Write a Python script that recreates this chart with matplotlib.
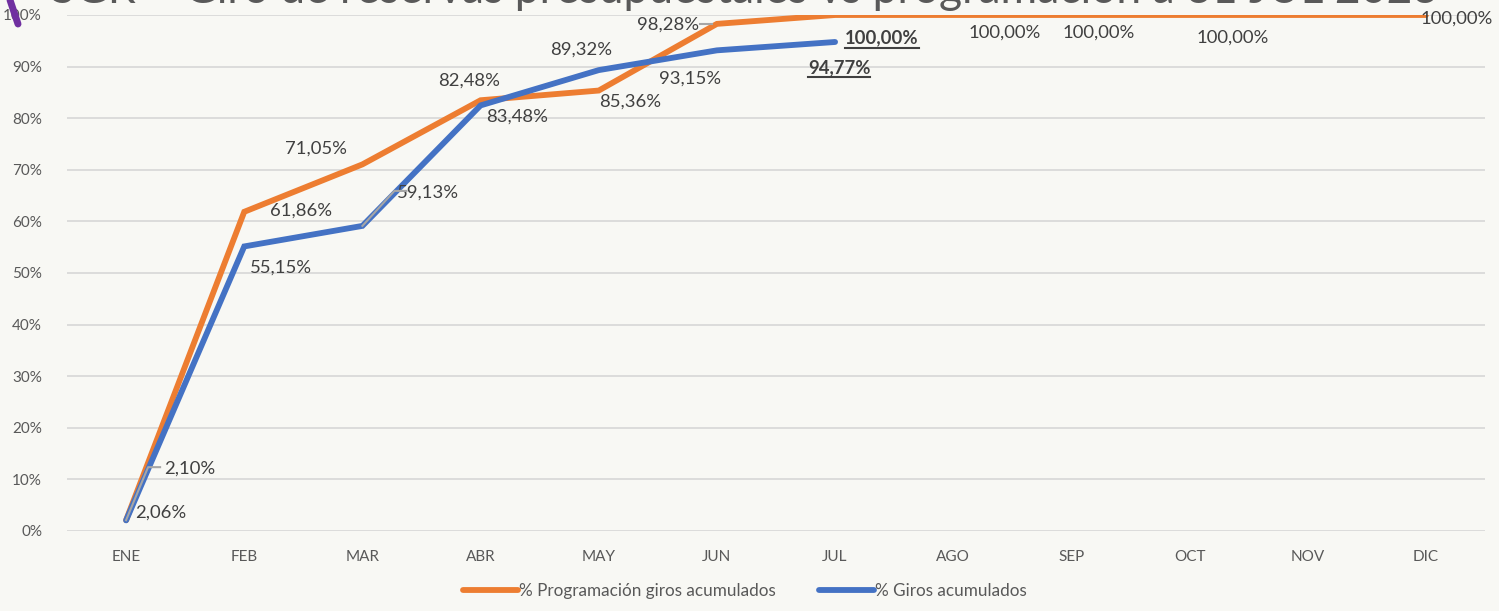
import matplotlib
matplotlib.use('Agg')
from matplotlib import pyplot as plt
from matplotlib.transforms import offset_copy
from matplotlib.lines import Line2D

plt.rcParams['font.family'] = ['Lato', 'DejaVu Sans']

# data
months = ['ENE', 'FEB', 'MAR', 'ABR', 'MAY', 'JUN', 'JUL', 'AGO', 'SEP', 'OCT', 'NOV', 'DIC']
programacion = [2.10, 61.86, 71.05, 83.48, 85.36, 98.28, 100.0, 100.0, 100.0, 100.0, 100.0, 100.0]
giros = [2.06, 55.15, 59.13, 82.48, 89.32, 93.15, 94.77]

# label offsets in pixels (dx, dy) from each point, None = no label
prog_offsets = [(64, 52), (57, 1), (-46, 16), (37, -16), (31, -11), (-49, -1),
                (47, -23), (51, -18), (27, -18), (43, -23), None, (31, -4)]
giros_offsets = [(35, 8), (37, -21), (66, 33), (-11, 25), (-18, 20), (-27, -28), (4, -26)]
bold_points = {('prog', 6), ('giros', 6)}

orange = '#ED7D31'
blue = '#4472C4'
bg = '#F8F8F4'
txt = '#404040'

fig = plt.figure(figsize=(14.99, 6.11), dpi=100, facecolor=bg)
ax = fig.add_axes([67 / 1499, 1 - 531 / 611, (1485 - 67) / 1499, (531 - 15) / 611])
ax.set_facecolor(bg)

x = list(range(len(months)))
ax.plot(x, programacion, color=orange, lw=4.2, solid_capstyle='round', solid_joinstyle='miter',
        label='% Programación giros acumulados', zorder=3)
ax.plot(x[:len(giros)], giros, color=blue, lw=4.2, solid_capstyle='round', solid_joinstyle='miter',
        label='% Giros acumulados', zorder=4)

ax.set_xlim(-0.5, len(months) - 0.5)
ax.set_ylim(0, 100)
ax.set_xticks(x)
ax.set_xticklabels(months)
ax.set_yticks(range(0, 101, 10))
ax.set_yticklabels([f'{v}%' for v in range(0, 101, 10)])
ax.tick_params(length=0, labelsize=11, colors='#595959', pad=14)
ax.tick_params(axis='y', pad=18)
ax.grid(axis='y', color='#D9D9D9', lw=1.3)
ax.set_axisbelow(True)
for s in ax.spines.values():
    s.set_visible(False)


def fmt(v):
    return f'{v:.2f}'.replace('.', ',') + '%'


labels = []
for name, vals, offs in [('prog', programacion, prog_offsets), ('giros', giros, giros_offsets)]:
    for i, v in enumerate(vals):
        if offs[i] is None:
            continue
        bold = (name, i) in bold_points
        t = ax.annotate(fmt(v), (i, v), xytext=offs[i], textcoords='offset pixels',
                        ha='center', va='center', fontsize=13.3, color=txt,
                        fontweight='bold' if bold else 'normal', zorder=6,
                        annotation_clip=False)
        if bold:
            labels.append(t)

# leader lines (gray) drawn from the point outward
leaders = [(0, programacion[0], [(0, 0), (22, 53), (34, 53)]),
           (2, giros[2], [(0, 0), (32, 35), (44, 35)]),
           (5, programacion[5], [(-17, 0), (-5, 0)])]
for xi, yi, pts in leaders:
    xs, ys = [], []
    for dx, dy in pts:
        tr = offset_copy(ax.transData, fig=fig, x=dx, y=dy, units='dots')
        px, py = tr.transform((xi, yi))
        xs.append(px)
        ys.append(py)
    fig.add_artist(Line2D(xs, ys, transform=None, color='#A6A6A6', lw=1.5, zorder=7))

# underline bold labels
fig.canvas.draw()
r = fig.canvas.get_renderer()
for t in labels:
    bb = t.get_window_extent(r)
    fig.add_artist(Line2D([bb.x0, bb.x1], [bb.y0 - 1, bb.y0 - 1], transform=None,
                          color=txt, lw=1.5))

# title cut off at the top of the image
fig.text(0.497, 1 - 3 / 611, 'SGR – Giro de reservas presupuestales vs programación a 31 JUL 2023',
         ha='center', va='baseline', fontsize=32, color='#595959')
fig.add_artist(Line2D([10 / 1499, 18 / 1499], [1.0, 1 - 24 / 611], color='#7030A0', lw=5,
                      solid_capstyle='round'))

fig.legend(loc='lower center', bbox_to_anchor=(0.497, -0.005), ncol=2, frameon=False,
           fontsize=12.3, handlelength=3.2, handletextpad=0.1, columnspacing=2.5,
           labelcolor='#595959')

fig.savefig('out.png', dpi=100, facecolor=bg)
